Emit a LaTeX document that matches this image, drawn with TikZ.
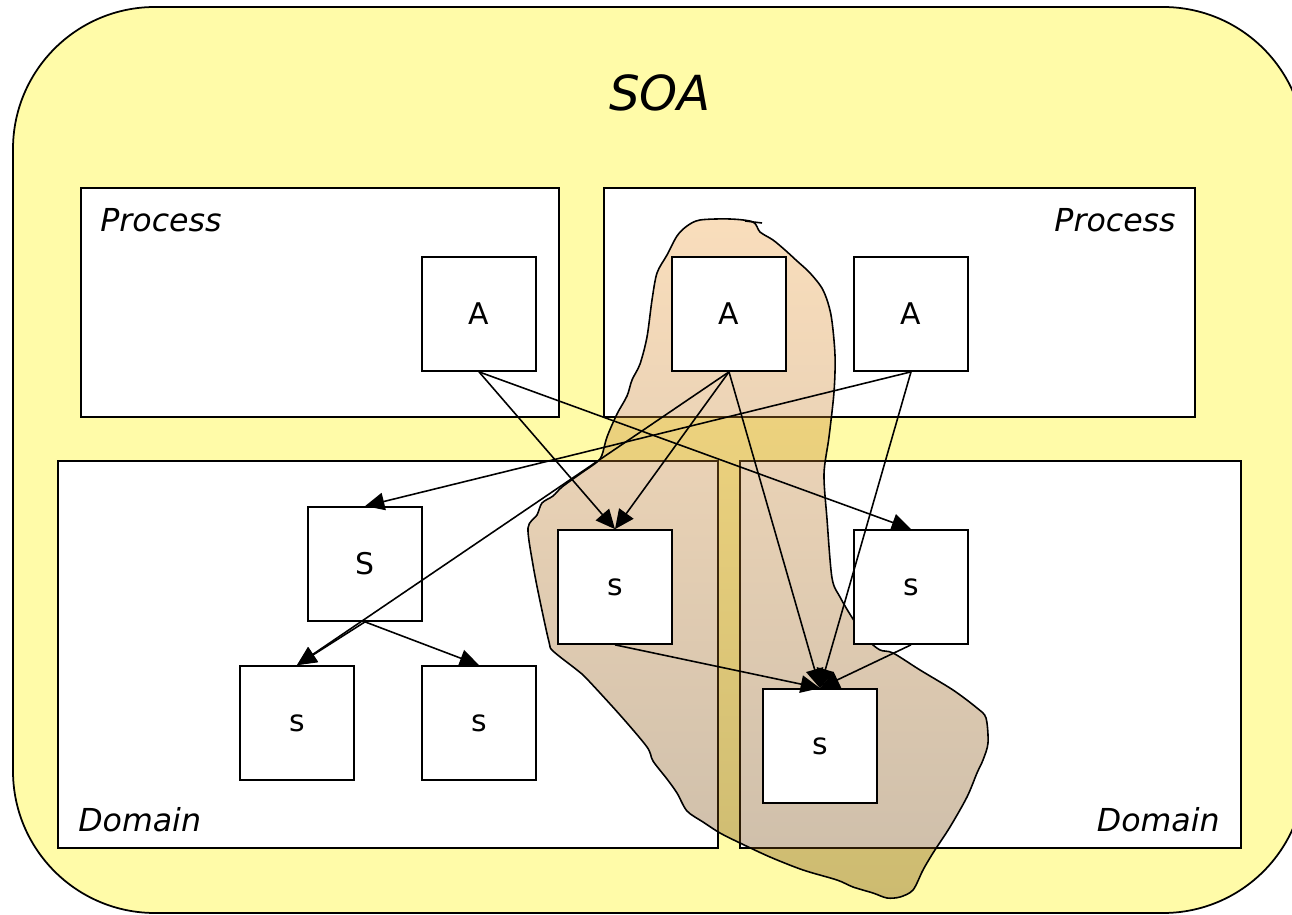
\documentclass[tikz,border=0pt]{standalone}
\usepackage{fontspec}
\setmainfont{DejaVu Sans}
\usetikzlibrary{arrows.meta}

\definecolor{soayellow}{RGB}{255,251,168}
\definecolor{blobtop}{RGB}{240,160,63}
\definecolor{blobbot}{RGB}{112,69,12}

\begin{document}
\begin{tikzpicture}[
                    x=0.02cm, y=-0.02cm,
                    area/.style={
                        draw,
                        fill=white,
                        line width=1pt
                    },
                    box/.style={
                        draw,
                        fill=white,
                        line width=1pt,
                        minimum size=2.28cm,
                        inner sep=0pt,
                        font=\fontsize{17}{20}\selectfont
                    },
                    tag/.style={
                        inner sep=0pt,
                        font=\fontsize{18}{22}\selectfont\itshape
                    },
                    arr/.style={
                        -{Triangle[length=11pt,width=10pt]},
                        line width=0.9pt
                    },
                    blob/.style={
                        top color=blobtop,
                        bottom color=blobbot,
                        fill opacity=0.35,
                        draw=black,
                        line width=0.9pt
                    }
                ]

                    \useasboundingbox (0,0) rectangle (1292,915);
                    \clip (0,0) rectangle (1292,915);

                    % SOA
                    \draw[fill=soayellow, line width=1pt, rounded corners=2.84cm] (13,7) rectangle (1305,913);
                    \node[inner sep=0pt, font=\fontsize{27.5}{32}\selectfont\itshape] (soa) at (660,93) {SOA};

                    % Process and Domain
                    \node[area, minimum width=9.56cm, minimum height=4.58cm] (procL) at (320,302.5) {};
                    \node[area, minimum width=11.82cm, minimum height=4.58cm] (procR) at (899.5,302.5) {};
                    \node[area, minimum width=13.2cm, minimum height=7.74cm] (domL) at (388,654.5) {};
                    \node[area, minimum width=10.02cm, minimum height=7.74cm] (domR) at (990.5,654.5) {};
                    \node[tag, anchor=west] (procLtag) at (100,220) {Process};
                    \node[tag, anchor=east] (procRtag) at (1176,220) {Process};
                    \node[tag, anchor=west] (domLtag) at (78,820) {Domain};
                    \node[tag, anchor=east] (domRtag) at (1220,820) {Domain};

                    % Blob
                    \shadedraw[blob] plot[smooth cycle, tension=0.5] coordinates {
                        (700,220) (730,219) (753,222) (760,232) (773,240) (785,250)
                        (797,261) (810,273) (823,290) (831,315) (835,355) (834,392)
                        (829,437) (824,474) (827,519) (832,578) (840,597) (853,619)
                        (868,640) (880,650) (893,653) (920,670) (953,690) (977,708)
                        (986,718) (988,743) (983,760) (977,773) (967,797) (950,827)
                        (933,853) (923,870) (913,890) (900,897) (887,898) (873,893)
                        (853,887) (837,880) (803,870) (770,857) (740,843) (720,833)
                        (703,822) (687,811) (677,793) (667,779) (653,761) (647,747)
                        (620,715) (587,679) (577,670) (553,651) (549,642) (540,601)
                        (533,565) (528,528) (537,515) (542,503) (553,496) (562,487)
                        (580,474) (597,462) (602,455) (607,437) (617,414) (627,396)
                        (632,380) (640,364) (647,337) (652,300) (657,273) (667,255)
                        (677,236) (687,226)};
                    \draw[line width=0.9pt] (745,221) -- (762,223);

                    % Applications
                    \node[box] (appL) at (479,314) {A};
                    \node[box] (appM) at (729,314) {A};
                    \node[box] (appR) at (911,314) {A};

                    % Services
                    \node[box] (svcS) at (365,564) {S};
                    \node[box] (svcM) at (615,587) {s};
                    \node[box] (svcR) at (911,587) {s};
                    \node[box] (svcLL) at (297,723) {s};
                    \node[box] (svcLR) at (479,723) {s};
                    \node[box] (svcX) at (820,746) {s};

                    % Edges
                    \draw[arr] (appL.south) -- (svcM.north);
                    \draw[arr] (appL.south) -- (svcR.north);
                    \draw[arr] (appM.south) -- (svcM.north);
                    \draw[arr] (appM.south) -- (svcLL.north);
                    \draw[arr] (appM.south) -- (svcX.north);
                    \draw[arr] (appR.south) -- (svcS.north);
                    \draw[arr] (appR.south) -- (svcX.north);
                    \draw[arr] (svcS.south) -- (svcLL.north);
                    \draw[arr] (svcS.south) -- (svcLR.north);
                    \draw[arr] (svcM.south) -- (svcX.north);
                    \draw[arr] (svcR.south) -- (svcX.north);
                \end{tikzpicture}
\end{document}
